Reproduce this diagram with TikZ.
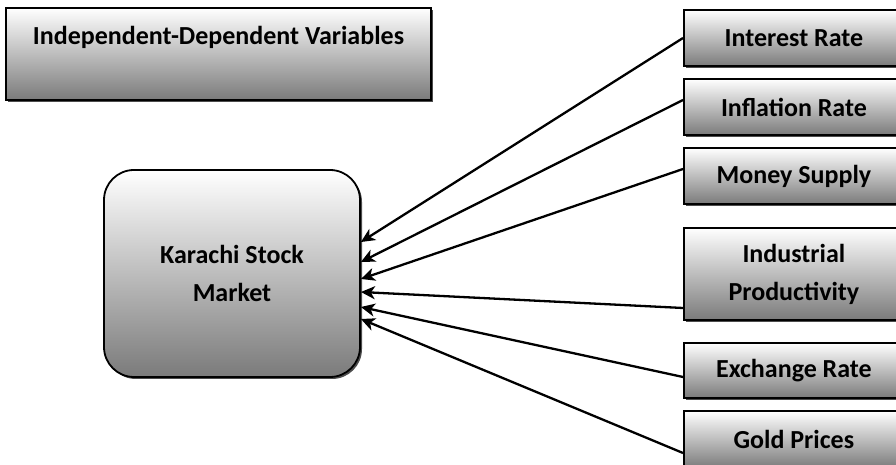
\documentclass[tikz,border=0pt]{standalone}
\usepackage{fontspec}
\setmainfont{Carlito}
\usetikzlibrary{arrows.meta,shadows}

\begin{document}
\begin{tikzpicture}[x=1pt,y=1pt,
    box/.style={draw=black, line width=1.8pt, top color=white, bottom color=black!52,
        drop shadow={shadow xshift=2pt,shadow yshift=-2pt,opacity=0.7,fill=black},
        font=\fontsize{26}{38}\selectfont\bfseries, align=center, inner sep=0pt},
    varbox/.style={box, minimum width=220pt, minimum height=56pt, anchor=west},
    link/.style={line width=2.3pt, -{Stealth[length=14pt,width=13pt,inset=4pt]}}]
    \useasboundingbox (0,0) rectangle (896,465);
    \clip (0,0) rectangle (896,465); % right boxes run off the page
    % title
    \node[box, minimum width=425pt, text height=37pt, text depth=55pt] (title) at (218.5,411) {Independent-Dependent Variables};
    % dependent variable
    \node[box, rounded corners=30pt, minimum width=256pt, minimum height=207pt] (ksm) at (232,191.5) {Karachi Stock\\Market};
    % independent variables
    \node[varbox] (ir) at (683,427) {Interest Rate};
    \node[varbox] (inf) at (683,358) {Inflation Rate};
    \node[varbox] (ms) at (683,289) {Money Supply};
    \node[varbox, minimum height=92pt] (ip) at (683,191) {Industrial\\Productivity};
    \node[varbox, minimum height=55pt] (er) at (683,94.5) {Exchange Rate};
    \node[varbox, minimum height=57pt] (gp) at (683,25.5) {Gold Prices};
    % edit here for the arrows
    \draw[link] (ir.west) -- ([yshift=31.5pt]ksm.east);
    \draw[link] ([yshift=7pt]inf.west) -- ([yshift=11.5pt]ksm.east);
    \draw[link] ([yshift=7pt]ms.west) -- ([yshift=-5.5pt]ksm.east);
    \draw[link] ([yshift=-34pt]ip.west) -- ([yshift=-18.5pt]ksm.east);
    \draw[link] ([yshift=-6.5pt]er.west) -- ([yshift=-33.5pt]ksm.east);
    \draw[link] ([yshift=-13.5pt]gp.west) -- ([yshift=-45.5pt]ksm.east);
\end{tikzpicture}
\end{document}
